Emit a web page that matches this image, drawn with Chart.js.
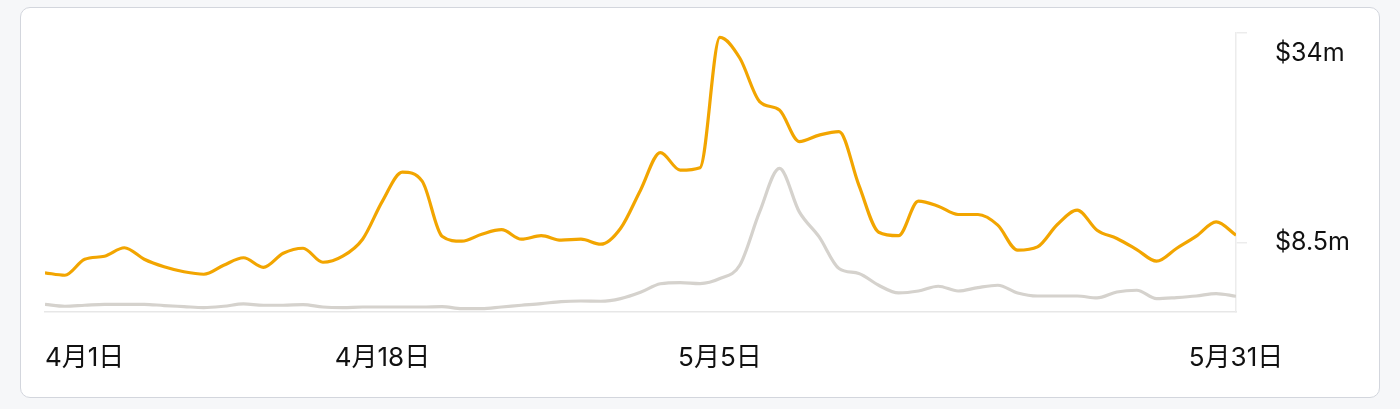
<!DOCTYPE html>
<html>
<head>
<meta charset="utf-8">
<script src="https://cdn.jsdelivr.net/npm/chart.js@4.4.1/dist/chart.umd.min.js"></script>
<style>
  html, body { margin: 0; padding: 0; background: #f6f7f9; }
  body { width: 1400px; height: 409px; position: relative; overflow: hidden; }
  #card { position: absolute; left: 19.5px; top: 7px; width: 1358px; height: 389px;
          background: #ffffff; border: 1.5px solid #d3d6dd; border-radius: 10px; }
  #wrap { position: absolute; left: 0; top: 0; width: 1400px; height: 409px; }
</style>
</head>
<body>
<div id="card"></div>
<div id="wrap"><canvas id="c" width="1400" height="409"></canvas></div>
<script>
// Day index from 4月1日 (0) to 5月31日 (60)
const days = Array.from({length: 61}, (_, i) => i);

// Orange series (values in $m)
const seriesOrange = [
  4.78, 4.48, 6.43, 6.80, 7.83, 6.43, 5.51, 4.90, 4.60, 5.70,
  6.61, 5.45, 7.16, 7.77, 6.06, 6.80, 8.87, 13.51, 17.04, 15.95,
  9.24, 8.63, 9.48, 10.03, 8.87, 9.30, 8.75, 8.87, 8.26, 10.21,
  14.85, 19.42, 17.29, 17.59, 33.46, 30.95, 25.65, 24.61, 20.77, 21.56,
  21.99, 15.46, 9.72, 9.30, 13.51, 12.90, 11.88, 11.88, 10.58, 7.53,
  7.93, 10.66, 12.41, 9.97, 8.96, 7.61, 6.19, 7.74, 9.24, 10.98,
  9.36
];

// Gray series (values in $m)
const seriesGray = [
  0.94, 0.70, 0.82, 0.94, 0.94, 0.94, 0.78, 0.66, 0.54, 0.70,
  0.98, 0.82, 0.82, 0.90, 0.61, 0.54, 0.61, 0.61, 0.61, 0.61,
  0.66, 0.41, 0.41, 0.61, 0.82, 1.02, 1.27, 1.34, 1.31, 1.63,
  2.40, 3.44, 3.59, 3.47, 4.08, 5.70, 12.20, 17.50, 12.20, 9.15,
  5.30, 4.69, 3.26, 2.32, 2.56, 3.14, 2.56, 2.98, 3.26, 2.32,
  1.95, 1.95, 1.95, 1.71, 2.44, 2.65, 1.63, 1.76, 1.95, 2.24,
  1.92
];

// Axis ticks
const xTickDays = [0, 17, 34, 60];
const xTickLabels = ['4月1日', '4月18日', '5月5日', '5月31日'];
const yTickValues = [8.5, 34];
const yTickLabels = ['$8.5m', '$34m'];

const FONT = "Inter, 'Noto Sans CJK JP', 'Noto Sans CJK SC', sans-serif";

// Place the first x label left-aligned and drop the top y label below its tick
const labelNudge = {
  id: 'labelNudge',
  beforeDraw(chart) {
    const xi = chart.scales.x.getLabelItems(chart.chartArea);
    if (xi.length) xi[0].options.textAlign = 'left';
    const yi = chart.scales.y.getLabelItems(chart.chartArea);
    yi.forEach(it => {
      if (it.label === yTickLabels[yTickLabels.length - 1]) it.options.translation[1] += 20;
    });
  }
};

new Chart(document.getElementById('c'), {
  type: 'line',
  data: {
    datasets: [
      {
        label: 'orange',
        data: days.map((d, i) => ({ x: d, y: seriesOrange[i] })),
        borderColor: '#F2A500',
        borderWidth: 3.2,
        pointRadius: 0,
        cubicInterpolationMode: 'monotone',
        fill: false
      },
      {
        label: 'gray',
        data: days.map((d, i) => ({ x: d, y: seriesGray[i] })),
        borderColor: '#D5D2CD',
        borderWidth: 3.2,
        pointRadius: 0,
        cubicInterpolationMode: 'monotone',
        fill: false
      }
    ]
  },
  options: {
    responsive: false,
    animation: false,
    layout: { padding: { left: 45, top: 33, right: 0, bottom: 0 } },
    plugins: { legend: { display: false }, tooltip: { enabled: false } },
    scales: {
      x: {
        type: 'linear',
        min: 0,
        max: 60,
        afterBuildTicks: s => { s.ticks = xTickDays.map(v => ({ value: v })); },
        afterFit: s => { s.height = 97; s.paddingLeft = 0; s.paddingRight = 0; },
        grid: { display: true, drawOnChartArea: false, drawTicks: false },
        border: { display: true, color: '#e7e7e7', width: 1.5 },
        ticks: {
          autoSkip: false,
          maxRotation: 0,
          padding: 31,
          color: '#111111',
          font: { family: FONT, size: 26 },
          callback: v => xTickLabels[xTickDays.indexOf(v)] ?? ''
        }
      },
      y: {
        position: 'right',
        min: 0,
        max: 34,
        afterBuildTicks: s => { s.ticks = yTickValues.map(v => ({ value: v })); },
        afterFit: s => { s.width = 164; s.paddingTop = 0; s.paddingBottom = 0; },
        grid: { drawOnChartArea: false, drawTicks: true, tickLength: 11, color: '#ececec', lineWidth: 1.5 },
        border: { display: true, color: '#ececec', width: 1.5 },
        ticks: {
          padding: 28,
          color: '#111111',
          font: { family: FONT, size: 25 },
          callback: v => yTickLabels[yTickValues.indexOf(v)] ?? ''
        }
      }
    }
  },
  plugins: [labelNudge]
});
</script>
</body>
</html>
